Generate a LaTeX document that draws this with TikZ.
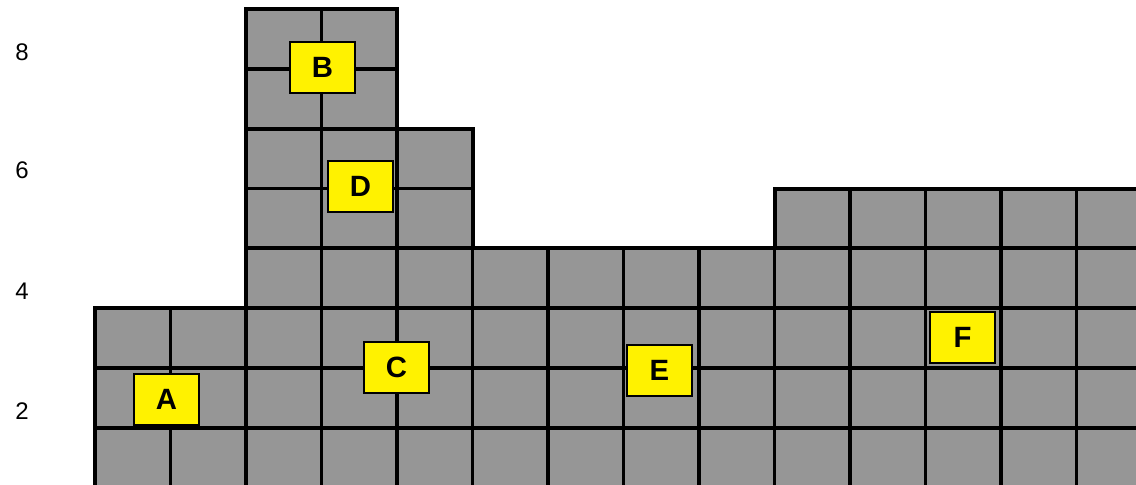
\documentclass[tikz,border=0pt]{standalone}
\usepackage{fontspec}
\setmainfont{Liberation Sans}
\begin{document}
\begin{tikzpicture}[x=0.75pt,y=-0.75pt,
  cellfill/.style={fill={rgb,255:red,150;green,150;blue,150}},
  gridline/.style={draw=black,line width=2.5pt},
  outline/.style={draw=black,line width=3pt,line join=miter},
  tag/.style={draw=black,line width=0.8pt,fill=yellow,minimum width=48.75pt,minimum height=38.25pt,inner sep=0pt,font=\bfseries\fontsize{22}{24}\selectfont},
  axislabel/.style={inner sep=0pt,font=\fontsize{18}{20}\selectfont}]
\useasboundingbox (0,0) rectangle (1136,485);
\def\shape{(95,520) -- (95,308) -- (246,308) -- (246,9) -- (397,9) -- (397,129) -- (472.5,129) -- (472.5,248) -- (774.5,248) -- (774.5,188.5) -- (1170,188.5) -- (1170,520) -- cycle}
\fill[cellfill] \shape;
\begin{scope}
  \clip \shape;
  \foreach \x in {170.5,246,321.5,397,472.5,548,623.5,699,774.5,850,925.5,1001,1076.5}
    \draw[gridline] (\x,0) -- (\x,500);
  \foreach \y in {69,129,188.5,248,308,368,428}
    \draw[gridline] (80,\y) -- (1150,\y);
\end{scope}
\draw[outline] \shape;
\node[axislabel] (l8) at (22,52) {8};
\node[axislabel] (l6) at (22,170) {6};
\node[axislabel] (l4) at (22,291) {4};
\node[axislabel] (l2) at (22,411) {2};
\node[tag] (a) at (166.5,399.5) {A};
\node[tag] (b) at (322.5,67.5) {B};
\node[tag] (c) at (396.5,367.5) {C};
\node[tag] (d) at (360.5,186.5) {D};
\node[tag] (e) at (659.5,370.5) {E};
\node[tag] (f) at (962.5,337.5) {F};
\end{tikzpicture}
\end{document}
